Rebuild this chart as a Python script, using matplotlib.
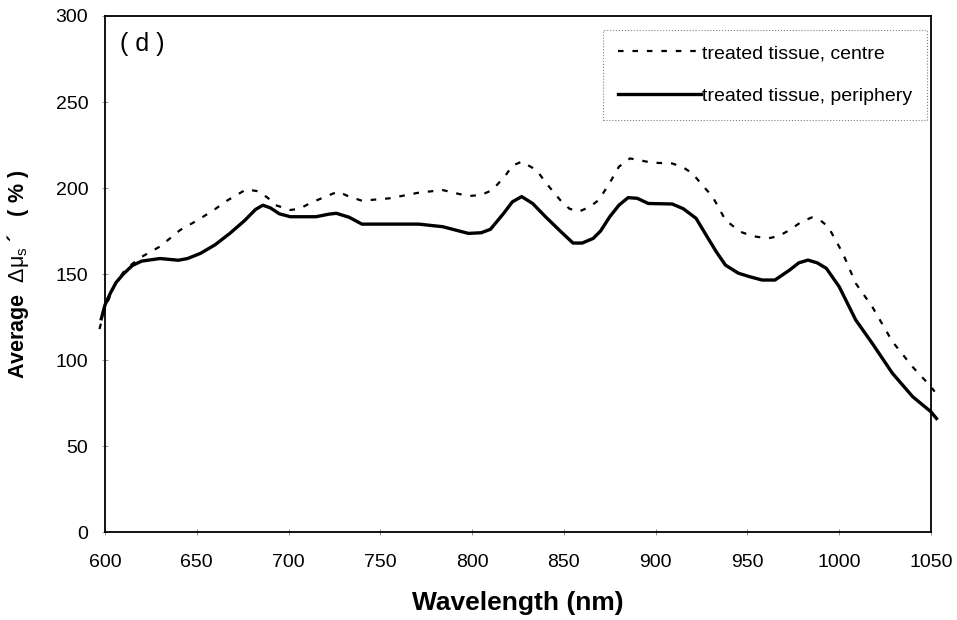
import matplotlib
matplotlib.use("Agg")
import matplotlib.pyplot as plt

plt.rcParams["font.family"] = ["Liberation Sans", "DejaVu Sans"]
plt.rcParams["mathtext.fontset"] = "custom"
plt.rcParams["mathtext.rm"] = "Liberation Sans"
plt.rcParams["mathtext.it"] = "Liberation Sans:italic"

# treated tissue, centre (dashed)
wl_centre = [597, 600, 605, 610, 615, 620, 630, 641, 650, 659, 667, 677, 684, 689,
             693, 701, 706, 711.5, 720, 727, 733, 740, 755, 771, 784, 791, 798, 805,
             811, 818, 822, 827, 835, 841, 848, 853, 858, 864, 869, 875, 880, 886,
             892, 898, 909, 915, 920, 926, 931, 938, 946, 953, 961, 967, 973, 979,
             985, 990, 994, 1002, 1009, 1018, 1029, 1040, 1050, 1052]
centre = [118, 130, 143, 151, 156, 160, 166, 175.6, 181, 187, 193, 199.2, 198, 194,
          190, 187.2, 188, 191, 195, 197.9, 195, 192.6, 194, 197.3, 198.8, 197, 195.3, 196,
          198.8, 207, 213, 215.3, 210.5, 202, 193, 188, 186.2, 189, 193, 203, 212.4, 217.2,
          216, 214.7, 214.3, 212, 208.5, 201, 195, 181.4, 174.6, 172, 170.7, 172, 175.6, 180,
          182.9, 181, 177.5, 162, 144.6, 131, 110.7, 96, 84.5, 81.6]

# treated tissue, periphery (solid)
wl_periph = [598, 600, 603, 606, 610, 615, 620, 630, 640, 645, 652, 660, 668, 676,
             682, 686, 690, 695, 701, 715, 722, 726, 733, 740, 755, 771, 784, 798, 805, 810,
             817, 822, 827, 833, 840, 848, 855, 860, 866, 870, 875, 880, 885, 890,
             896, 909, 915, 922, 929, 933, 938, 945, 951, 958, 965, 973, 978, 983,
             988, 993, 1000, 1009, 1018, 1029, 1040, 1050, 1053]
periph = [124, 132, 139, 145, 150, 155, 157.5, 159, 158, 159, 162, 167, 173.6, 181,
          187.5, 190, 188.5, 185, 183.3, 183.3, 184.8, 185.3, 183, 179, 179, 179, 177.5, 173.6, 174, 176,
          185, 192, 195, 191, 183.3, 175, 168, 168, 170.7, 175, 183.3, 190, 194.4, 194,
          191, 190.7, 188, 182.4, 170, 163, 155.2, 150.5, 148.5, 146.5, 146.5, 152.3, 156.5, 158.1,
          156.5, 153.3, 142.6, 123.3, 109.7, 92.3, 78.7, 69.9, 66]

fig = plt.figure(figsize=(9.57, 6.2), dpi=100)
ax = fig.add_axes([0.1097, 0.1419, 0.8631, 0.8323])

ax.plot(wl_centre, centre, color="black", lw=1.6, linestyle=(0, (2.5, 4)),
        label="treated tissue, centre", clip_on=False)
ax.plot(wl_periph, periph, color="black", lw=2.4, solid_joinstyle="round",
        label="treated tissue, periphery", clip_on=False)

ax.set_xlim(600, 1050)
ax.set_ylim(0, 300)
ax.set_xticks(range(600, 1051, 50))
ax.set_yticks(range(0, 301, 50))
ax.tick_params(direction="inout", length=4, width=0.6, color="gray", labelsize=14)
ax.tick_params(axis="x", pad=14)
ax.tick_params(axis="y", pad=10)
for s in ax.spines.values():
    s.set_linewidth(1.3)

ax.set_xlabel("Wavelength (nm)", fontsize=19, fontweight="bold", labelpad=14)
ax.set_ylabel("Average  $\\mathrm{Δμ}_{\\mathrm{s}}$ ´   ( % )", fontsize=15.5,
              fontweight="bold", labelpad=18)

ax.text(608, 284, "( d )", fontsize=18, va="center", ha="left")

leg = ax.legend(loc="upper right", bbox_to_anchor=(0.995, 0.973), borderaxespad=0,
                fontsize=14, handlelength=4.3, handletextpad=0.05, labelspacing=1.3,
                borderpad=0.75, fancybox=False, framealpha=1)
frame = leg.get_frame()
frame.set_edgecolor("gray")
frame.set_linestyle(":")
frame.set_linewidth(0.8)

fig.savefig("out.png", dpi=100)
